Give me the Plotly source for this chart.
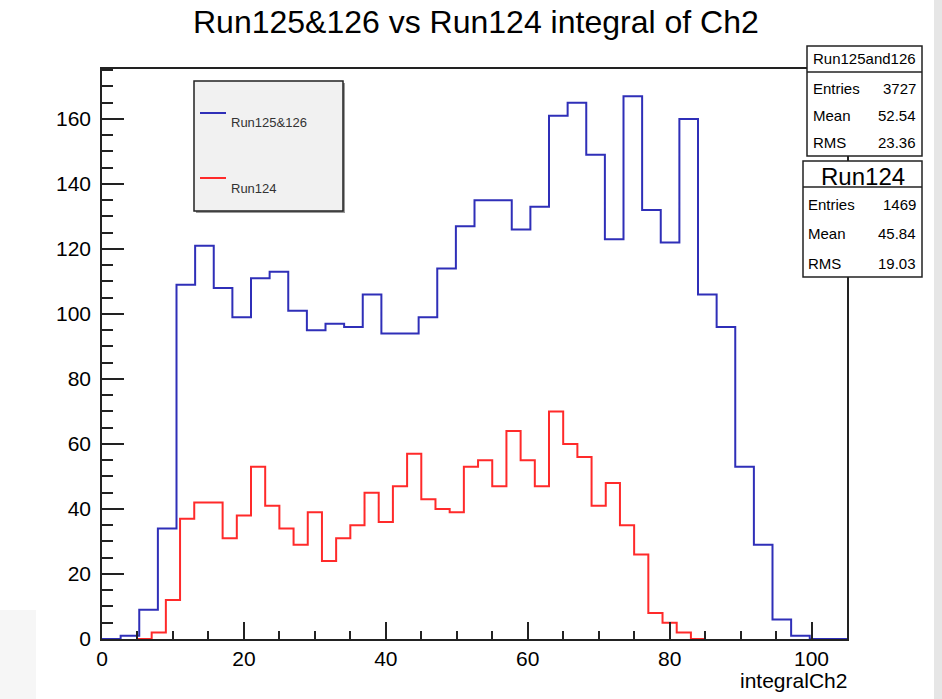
import numpy as np
import plotly.graph_objects as go

# ---------------- data ----------------
blue_name = "Run125&126"
red_name = "Run124"
blue_range = (0.0, 105.0)   # histogram axis range, 40 bins
red_range = (5.0, 85.0)     # histogram axis range, 40 bins
blue_counts = [0, 1, 9, 34, 109, 121, 108, 99, 111, 113, 101, 95, 97, 96, 106, 94,
               94, 99, 114, 127, 135, 135, 126, 133, 161, 165, 149, 123, 167, 132,
               122, 160, 106, 96, 53, 29, 6, 1, 0, 0]
red_counts = [0, 2, 12, 37, 42, 42, 31, 38, 53, 41, 34, 29, 39, 24, 31, 35, 45, 36,
              47, 57, 43, 40, 39, 53, 55, 47, 64, 55, 47, 70, 60, 56, 41, 48, 35, 26,
              8, 5, 2, 0]
stats_blue_title = "Run125and126"
stats_red_title = "Run124"
stat_labels = ["Entries", "Mean", "RMS"]
stats_blue_values = ["3727", "52.54", "23.36"]
stats_red_values = ["1469", "45.84", "19.03"]
x_ticks = [0, 20, 40, 60, 80, 100]
y_ticks = [0, 20, 40, 60, 80, 100, 120, 140, 160]

# ---------------- geometry ----------------
W, H = 942, 699
L, R, T, B = 102, 95, 69, 60
FONT = "Liberation Sans, Arial, sans-serif"
BLUE = "#2f2fb8"
RED = "#ff2a2a"


def px(x):
    return (x - L) / (W - L - R)


def py(y):
    return (H - B - y) / (H - T - B)


def edges(rng, n):
    return np.linspace(rng[0], rng[1], n + 1)


be = edges(blue_range, len(blue_counts))
re_ = edges(red_range, len(red_counts))
ymax = max(blue_counts) * 1.05

fig = go.Figure()
fig.add_trace(go.Scatter(x=be, y=blue_counts + [blue_counts[-1]], mode="lines",
                         line=dict(color=BLUE, width=2, shape="hv"), name=blue_name,
                         showlegend=False, hoverinfo="skip"))
fig.add_trace(go.Scatter(x=re_, y=red_counts + [red_counts[-1]], mode="lines",
                         line=dict(color=RED, width=2, shape="hv"), name=red_name,
                         showlegend=False, hoverinfo="skip"))

shapes = []
annotations = []

# background grey strips (screenshot border)
shapes.append(dict(type="rect", xref="paper", yref="paper", x0=px(934), x1=px(942),
                   y0=py(H), y1=py(0), fillcolor="#e6e6e6", line=dict(width=0), layer="below"))
shapes.append(dict(type="rect", xref="paper", yref="paper", x0=px(0), x1=px(36),
                   y0=py(H), y1=py(610), fillcolor="#f6f6f6", line=dict(width=0), layer="below"))

# legend box
shapes.append(dict(type="rect", xref="paper", yref="paper", x0=px(196), x1=px(345),
                   y0=py(213), y1=py(83), fillcolor="#9a9a9a", line=dict(width=0)))
shapes.append(dict(type="rect", xref="paper", yref="paper", x0=px(194), x1=px(343),
                   y0=py(211), y1=py(81), fillcolor="#f1f1f1", line=dict(color="#222", width=1.5)))
for yy, col, name in [(113, BLUE, blue_name), (178, RED, red_name)]:
    shapes.append(dict(type="line", xref="paper", yref="paper", x0=px(200), x1=px(226),
                       y0=py(yy), y1=py(yy), line=dict(color=col, width=2)))
    annotations.append(dict(xref="paper", yref="paper", x=px(229), y=py(yy + 10), text=name,
                            showarrow=False, xanchor="left", yanchor="middle",
                            font=dict(family=FONT, size=13, color="#333")))


# stats boxes
def stats_box(x0, x1, y0, ydiv, y1, title, tsize, rows_y, lab_x, val_x, values, tcy):
    shapes.append(dict(type="rect", xref="paper", yref="paper", x0=px(x0), x1=px(x1),
                       y0=py(y1), y1=py(y0), fillcolor="white", line=dict(color="#222", width=1.5)))
    shapes.append(dict(type="line", xref="paper", yref="paper", x0=px(x0), x1=px(x1),
                       y0=py(ydiv), y1=py(ydiv), line=dict(color="#222", width=1.5)))
    annotations.append(dict(xref="paper", yref="paper", x=px((x0 + x1) / 2), y=py(tcy),
                            text=title, showarrow=False, xanchor="center", yanchor="middle",
                            font=dict(family=FONT, size=tsize, color="black")))
    for ry, lab, val in zip(rows_y, stat_labels, values):
        annotations.append(dict(xref="paper", yref="paper", x=px(lab_x), y=py(ry), text=lab,
                                showarrow=False, xanchor="left", yanchor="middle",
                                font=dict(family=FONT, size=15, color="black")))
        annotations.append(dict(xref="paper", yref="paper", x=px(val_x), y=py(ry), text=val,
                                showarrow=False, xanchor="right", yanchor="middle",
                                font=dict(family=FONT, size=15, color="black")))


stats_box(807, 922, 46, 72, 156, stats_blue_title, 15, [88, 115, 143], 811, 918,
          stats_blue_values, 59)
stats_box(803, 922, 161, 187, 277, stats_red_title, 24, [205, 233, 263], 806, 918,
          stats_red_values, 176)

# title and x-axis title
annotations.append(dict(xref="paper", yref="paper", x=px(476), y=py(22),
                        text="Run125&126 vs Run124 integral of Ch2", showarrow=False,
                        xanchor="center", yanchor="middle",
                        font=dict(family=FONT, size=32, color="black")))
annotations.append(dict(xref="paper", yref="paper", x=px(849), y=py(680),
                        text="integralCh2", showarrow=False, xanchor="right", yanchor="middle",
                        font=dict(family=FONT, size=21, color="black")))

fig.update_layout(
    width=W, height=H, margin=dict(l=L, r=R, t=T, b=B),
    paper_bgcolor="white", plot_bgcolor="white",
    showlegend=False, shapes=shapes, annotations=annotations,
    xaxis=dict(range=[blue_range[0], blue_range[1]], tickvals=x_ticks,
               ticktext=[str(v) for v in x_ticks], ticks="inside", ticklen=17,
               tickwidth=1.5, tickcolor="#222", showline=True, linecolor="#222",
               linewidth=1.5, mirror=True, showgrid=False, zeroline=False,
               tickfont=dict(family=FONT, size=21, color="black"),
               minor=dict(dtick=5, ticks="inside", ticklen=8, tickwidth=1.5,
                          tickcolor="#222", showgrid=False)),
    yaxis=dict(range=[0, ymax], tickvals=y_ticks, ticktext=[str(v) for v in y_ticks],
               ticks="inside", ticklen=22, tickwidth=1.5, tickcolor="#222",
               showline=True, linecolor="#222", linewidth=1.5, mirror=True,
               showgrid=False, zeroline=False, ticklabelstandoff=5,
               tickfont=dict(family=FONT, size=21, color="black"),
               minor=dict(dtick=5, ticks="inside", ticklen=11, tickwidth=1.5,
                          tickcolor="#222", showgrid=False)),
)

fig.write_html("out.html")
